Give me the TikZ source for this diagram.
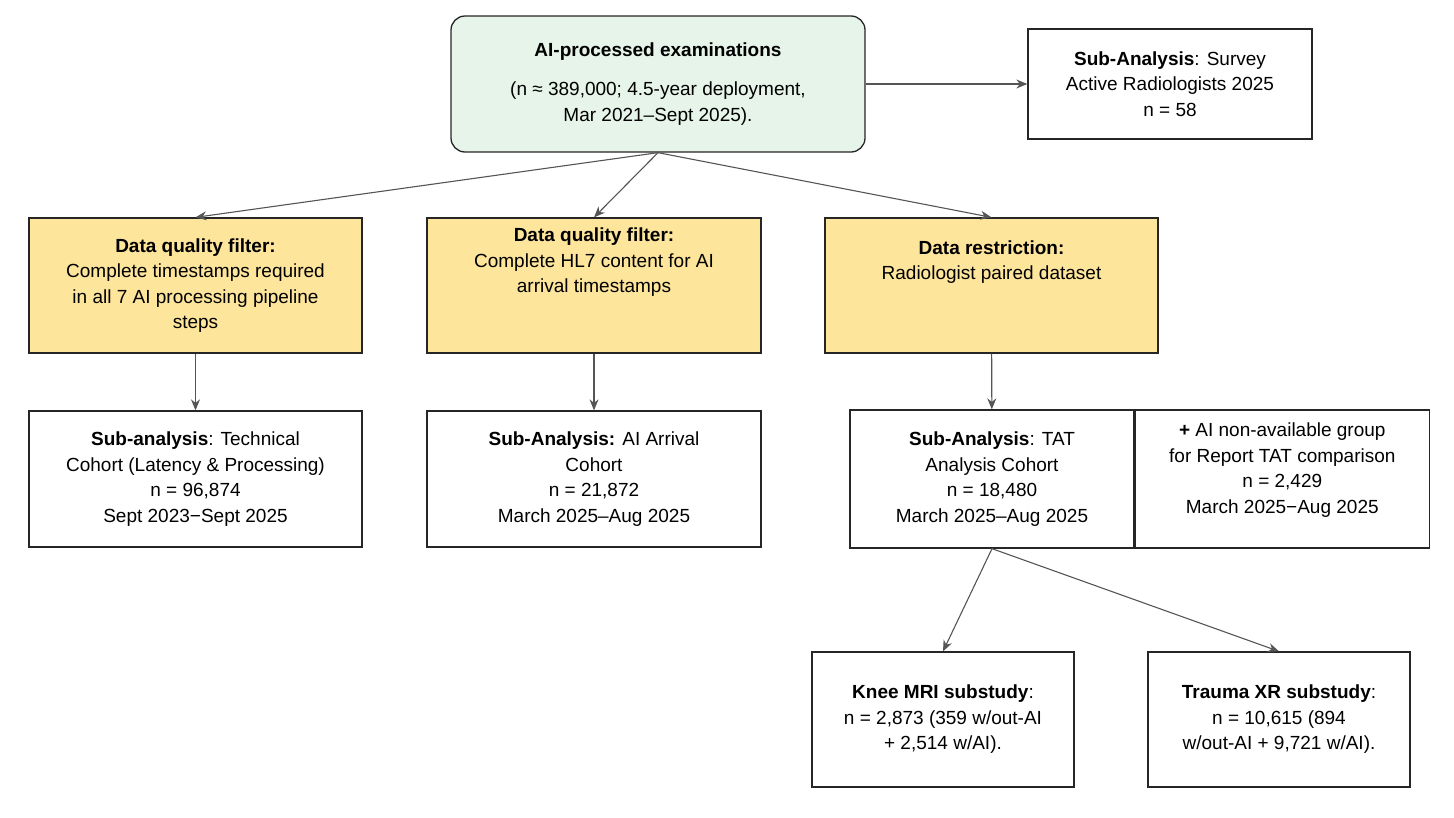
\documentclass[tikz,border=0pt]{standalone}
\usepackage{fontspec}
\setmainfont{Liberation Sans}
\usetikzlibrary{arrows.meta}
\definecolor{gfill}{HTML}{E6F4EA}
\definecolor{yfill}{HTML}{FEE59C}
\definecolor{edge}{HTML}{555555}
\begin{document}
\begin{tikzpicture}[x=1pt,y=-1pt,
  box/.style={draw=black!85,line width=1.3pt,align=center,font=\fontsize{19}{25.5}\selectfont,inner sep=0pt},
  arr/.style={draw=edge,line width=1.1pt,-{Stealth[length=11pt,width=9pt]}}]
\useasboundingbox (0,0) rectangle (1454,817);
\node[box,rounded corners=14pt,fill=gfill,minimum width=414pt,minimum height=136pt] (top) at (658,84) {\textbf{AI-processed examinations}\\[14pt](n ≈ 389,000; 4.5-year deployment,\\Mar 2021–Sept 2025).};
\node[box,minimum width=284pt,minimum height=110pt] (sv) at (1170,84) {\textbf{Sub-Analysis}: Survey\\Active Radiologists 2025\\n = 58};
\node[box,fill=yfill,minimum width=333pt,minimum height=135pt] (y1) at (195.5,285.5) {\textbf{Data quality filter:}\\Complete timestamps required\\in all 7 AI processing pipeline\\steps};
\node[box,fill=yfill,minimum width=334pt,minimum height=135pt] (y2) at (594,285.5) {\textbf{Data quality filter:}\\Complete HL7 content for AI\\arrival timestamps\\[25pt]};
\node[box,fill=yfill,minimum width=333pt,minimum height=135pt] (y3) at (991.5,285.5) {\textbf{Data restriction:}\\Radiologist paired dataset\\[25pt]};
\node[box,minimum width=333pt,minimum height=136pt] (s1) at (195.5,479) {\textbf{Sub-analysis}: Technical\\Cohort (Latency \& Processing)\\n = 96,874\\Sept 2023−Sept 2025};
\node[box,minimum width=334pt,minimum height=136pt] (s2) at (594,479) {\textbf{Sub-Analysis:} AI Arrival\\Cohort\\n = 21,872\\March 2025–Aug 2025};
\node[box,minimum width=284pt,minimum height=138pt] (s3) at (992,479) {\textbf{Sub-Analysis}: TAT\\Analysis Cohort\\n = 18,480\\March 2025–Aug 2025};
\node[box,minimum width=294pt,minimum height=138pt,anchor=west] (s4) at (s3.east) {\textbf{+} AI non-available group\\for Report TAT comparison\\n = 2,429\\March 2025−Aug 2025\\[-4pt]};
\node[box,minimum width=262pt,minimum height=135pt] (k) at (943,719.5) {\textbf{Knee MRI substudy}:\\n = 2,873 (359 w/out-AI\\+ 2,514 w/AI).};
\node[box,minimum width=262pt,minimum height=135pt] (t) at (1279,719.5) {\textbf{Trauma XR substudy}:\\n = 10,615 (894\\w/out-AI + 9,721 w/AI).};
\draw[arr] (top.south) -- (y1.north);
\draw[arr] (top.south) -- (y2.north);
\draw[arr] (top.south) -- (y3.north);
\draw[arr] (top.east) -- (sv.west);
\draw[arr] (y1) -- (s1);
\draw[arr] (y2) -- (s2);
\draw[arr] (y3) -- (s3);
\draw[arr] (s3.south) -- (k.north);
\draw[arr] (s3.south) -- (t.north);
\end{tikzpicture}
\end{document}
